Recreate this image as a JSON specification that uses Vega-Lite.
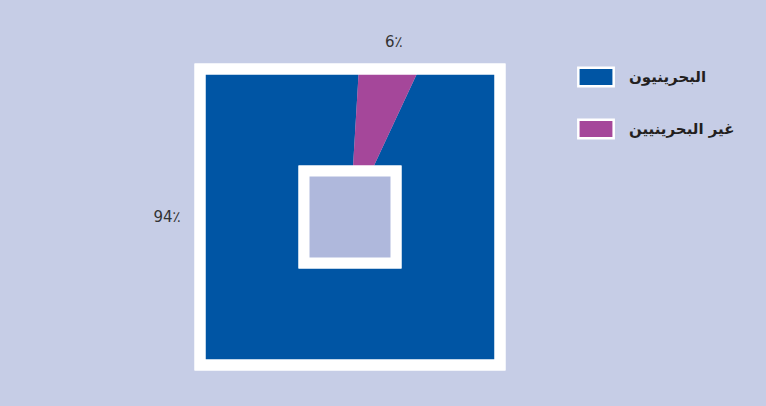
{
  "$schema": "https://vega.github.io/schema/vega-lite/v6.json",
  "width": 300,
  "height": 296,
  "autosize": {"type": "none"},
  "padding": {"left": 200, "top": 69, "right": 266, "bottom": 41},
  "background": "#C6CDE6",
  "config": {
    "view": {"stroke": null, "fill": "#0055A4"},
    "font": "DejaVu Sans"
  },
  "data": {
    "values": [
      {"group": "البحرينيون", "value": 94, "label": "94٪"},
      {"group": "غير البحرينيين", "value": 6, "label": "6٪"}
    ]
  },
  "encoding": {
    "theta": {"field": "value", "type": "quantitative", "stack": true, "scale": {"range": [0.437, 6.720]}}
  },
  "layer": [
    {
      "mark": {"type": "arc", "radius": 260, "clip": true},
      "encoding": {
        "color": {
          "field": "group",
          "type": "nominal",
          "scale": {"domain": ["البحرينيون", "غير البحرينيين"], "range": ["#0055A4", "#A5479A"]},
          "legend": {
            "title": null,
            "orient": "none",
            "legendX": 377,
            "legendY": -11,
            "padding": 0,
            "symbolType": "M-1,-0.53H1V0.53H-1Z",
            "symbolSize": 1250,
            "symbolStrokeColor": "#FFFFFF",
            "symbolStrokeWidth": 2.5,
            "symbolOpacity": 1,
            "labelFont": "DejaVu Sans",
            "labelFontSize": 15,
            "labelFontWeight": "bold",
            "labelColor": "#231F20",
            "labelOffset": 14,
            "rowPadding": 18,
            "labelLimit": 300
          }
        }
      }
    },
    {
      "mark": {"type": "rect", "fill": null, "fillOpacity": 0, "stroke": "#FFFFFF", "strokeWidth": 11, "clip": false},
      "encoding": {}
    },
    {
      "mark": {"type": "point", "shape": "square", "size": 8464, "filled": true, "fill": "#AFB8DC", "stroke": "#FFFFFF", "strokeWidth": 11, "opacity": 1},
      "encoding": {}
    },
    {
      "transform": [{"filter": "datum.value < 50"}],
      "mark": {"type": "text", "radius": 180, "thetaOffset": -0.38, "fontSize": 15, "color": "#333333", "font": "DejaVu Sans"},
      "encoding": {"text": {"field": "label"}}
    },
    {
      "transform": [{"filter": "datum.value >= 50"}],
      "mark": {"type": "text", "radius": 183, "thetaOffset": 1.322, "fontSize": 15, "color": "#333333", "font": "DejaVu Sans"},
      "encoding": {"text": {"field": "label"}}
    }
  ]
}
